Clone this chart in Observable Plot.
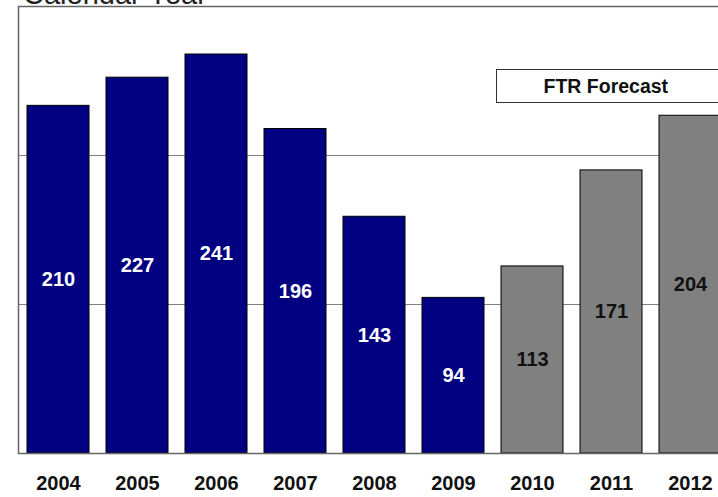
<!DOCTYPE html>
<html>
<head>
<meta charset="utf-8">
<script src="https://cdn.jsdelivr.net/npm/d3@7"></script>
<script src="https://cdn.jsdelivr.net/npm/@observablehq/plot@0.6"></script>
<style>
  html, body { margin: 0; padding: 0; background: #fff; overflow: hidden; }
  #wrap { position: relative; width: 718px; height: 497px; overflow: hidden; }
  #title { position: absolute; left: 23px; top: -20.5px; font: 29px "Liberation Sans", Arial, sans-serif; line-height: 29px; color: #222; white-space: nowrap; }
  #ftr { position: absolute; left: 495.5px; top: 68.5px; width: 300px; height: 34px; border: 1px solid #333; background: #fff;
         box-sizing: border-box; font: bold 19.5px "Liberation Sans", Arial, sans-serif; line-height: 32px; padding-left: 47px; color: #111; white-space: nowrap; }
  #chart { position: absolute; left: 0; top: 0; width: 740px; }
  #chart svg { max-width: none !important; }
</style>
</head>
<body>
<div id="wrap">
  <div id="chart"></div>
  <div id="title">Calendar  Year</div>
  <div id="ftr">FTR Forecast</div>
</div>
<script>
const years = ["2004","2005","2006","2007","2008","2009","2010","2011","2012"];
const values = [210, 227, 241, 196, 143, 94, 113, 171, 204];
const kinds = ["Actual","Actual","Actual","Actual","Actual","Actual","Forecast","Forecast","Forecast"];
const gridTicks = [90, 180];

const data = years.map((y, i) => ({year: y, value: values[i], kind: kinds[i]}));

const chart = Plot.plot({
  width: 740,
  height: 497,
  marginLeft: 18,
  marginRight: 10,
  marginTop: 6,
  marginBottom: 44,
  style: {fontFamily: "'Liberation Sans', Arial, sans-serif", background: "transparent", maxWidth: "none"},
  x: {domain: years, paddingInner: 0.215, paddingOuter: 0.1075, label: null},
  y: {domain: [0, 270], label: null},
  color: {domain: ["Actual", "Forecast"], range: ["#000080", "#808080"]},
  marks: [
    Plot.gridY(gridTicks, {stroke: "#808080", strokeOpacity: 1, strokeWidth: 1}),
    Plot.barY(data, {x: "year", y: "value", fill: "kind", stroke: "#000", strokeWidth: 1}),
    Plot.text(data, {
      x: "year",
      y: d => d.value / 2,
      text: d => String(d.value),
      fill: d => d.kind === "Actual" ? "#ffffff" : "#111111",
      fontSize: 20,
      fontWeight: "bold"
    }),
    Plot.frame({stroke: "#666", strokeWidth: 1.5}),
    Plot.axisX({tickSize: 0, tickPadding: 22, fontSize: 20, fontWeight: "bold", color: "#111"}),
    Plot.axisY({ticks: [], tickSize: 0})
  ]
});
chart.style.maxWidth = "none";
document.getElementById("chart").appendChild(chart);
</script>
</body>
</html>
